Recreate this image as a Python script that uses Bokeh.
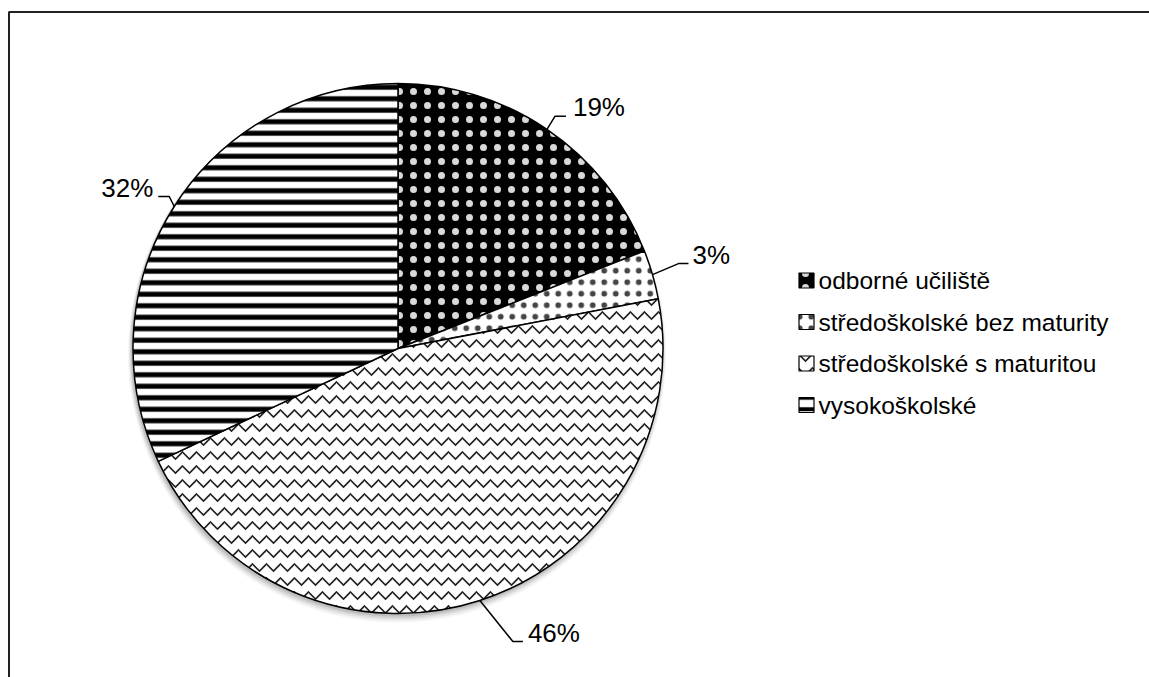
import numpy as np
from bokeh.plotting import figure
from bokeh.models import Range1d
from bokeh.core.properties import value
from bokeh.embed import file_html
from bokeh.resources import INLINE

# ---- data ----
categories = ["odborné učiliště", "středoškolské bez maturity",
              "středoškolské s maturitou", "vysokoškolské"]
shares = [19, 3, 46, 32]
pct_labels = ["19%", "3%", "46%", "32%"]

# ---- styles ----
fill_colors = ["black", "white", "white", "white"]
hatch_patterns = ["dot", "dot", "horizontal_wave", "horizontal_line"]
hatch_colors = ["white", "#444444", "#222222", "black"]
hatch_alphas = [0.85, 1.0, 1.0, 1.0]
hatch_scales = [14, 11.5, 14, 11.5]
hatch_weights = [0.2, 0.2, 1.6, 5]
FONT = "Liberation Sans"
FS_PCT = "26px"
FS_LEG = "24.5px"

W, H = 1149, 677
def sx(x):  # reference px -> data x
    return x
def sy(y):  # reference px -> data y
    return H - y

cx, cy, R = sx(397.5), sy(348), 265

p = figure(width=W, height=H, x_range=Range1d(0, W), y_range=Range1d(0, H),
           output_backend="svg", toolbar_location=None, min_border=0,
           x_axis_location=None, y_axis_location=None)
p.grid.visible = False
p.outline_line_color = None
p.background_fill_color = "white"
p.border_fill_color = "white"

# frame (only top and left edges are visible)
p.line(x=[sx(8.5), sx(8.5), sx(W + 5)], y=[sy(H + 5), sy(11.5), sy(11.5)],
       line_color="#222222", line_width=2)

# soft shadow
for i, a in enumerate([0.10, 0.08, 0.06, 0.04]):
    p.circle(x=[cx - 1], y=[cy - 2 - i], radius=R + 1 + i, fill_color="black",
             fill_alpha=a, line_color=None)

cum = np.concatenate([[0], np.cumsum(shares)]) / sum(shares) * 360.0
starts = 90 - cum[:-1]
ends = 90 - cum[1:]
for i in range(len(shares)):
    p.wedge(x=[cx], y=[cy], radius=R, start_angle=[starts[i]], end_angle=[ends[i]],
            start_angle_units="deg", end_angle_units="deg", direction="clock",
            fill_color=fill_colors[i], hatch_pattern=hatch_patterns[i],
            hatch_color=hatch_colors[i], hatch_alpha=hatch_alphas[i],
            hatch_scale=hatch_scales[i], hatch_weight=hatch_weights[i],
            line_color="black", line_width=1.5)

# leader lines and percentage labels (offsets in screen px from slice edge point)
elbow_off = [(8, -13), (26, -11), (33, 41), (-5, -10)]
end_off = [(19, -13), (36, -11), (43, 41), (-16, -10)]
text_off = [(26, -22), (40, -20), (48, 32), (-21, -19)]
aligns = ["left", "left", "left", "right"]
mids = np.radians((starts + ends) / 2)
xs, ys = [], []
for i in range(len(shares)):
    ex = cx + R * np.cos(mids[i])
    ey = cy + R * np.sin(mids[i])
    xs.append([ex, ex + elbow_off[i][0], ex + end_off[i][0]])
    ys.append([ey, ey - elbow_off[i][1], ey - end_off[i][1]])
    p.text(x=[ex + text_off[i][0]], y=[ey - text_off[i][1]], text=[pct_labels[i]],
           text_font=value(FONT), text_font_size=FS_PCT, text_color="black",
           text_align=aligns[i], text_baseline="middle")
p.multi_line(xs=xs, ys=ys, line_color="black", line_width=1.5)

# legend (manual)
row_y = [sy(280 + 41.5 * k) for k in range(len(categories))]
for i in range(len(categories)):
    p.rect(x=[sx(806)], y=[row_y[i]], width=15, height=15,
           fill_color=fill_colors[i], hatch_pattern=hatch_patterns[i],
           hatch_color=hatch_colors[i], hatch_alpha=hatch_alphas[i],
           hatch_scale=hatch_scales[i],
           hatch_weight=hatch_weights[i] if i != 3 else 4,
           line_color="black", line_width=1.2)
p.text(x=[sx(818)] * len(categories), y=row_y, text=categories,
       text_font=value(FONT), text_font_size=FS_LEG, text_color="black",
       text_align="left", text_baseline="middle")

open("out.html", "w").write(file_html(p, INLINE))
